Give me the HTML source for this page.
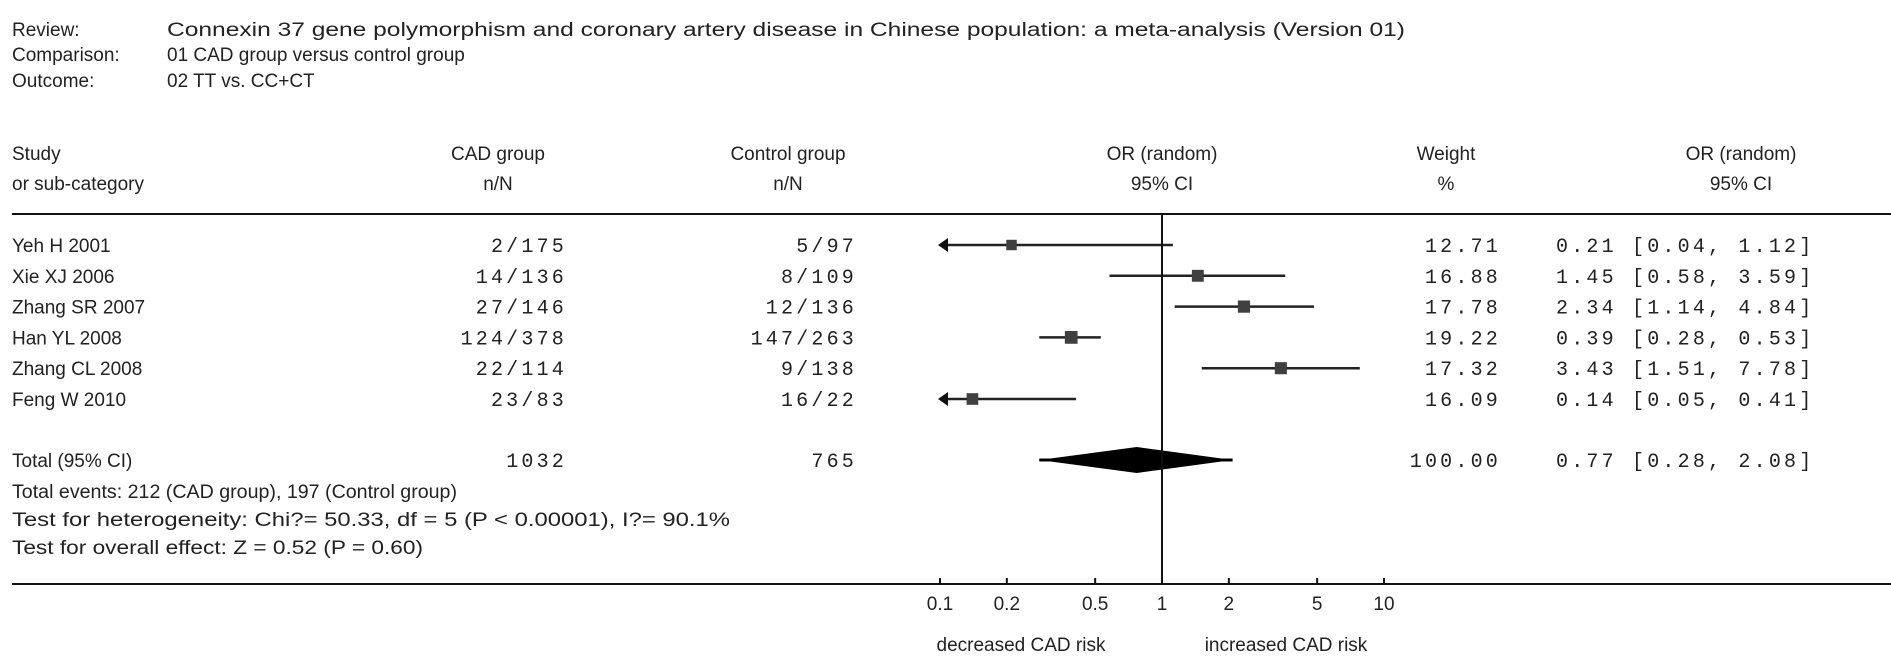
<!DOCTYPE html>
<html><head><meta charset="utf-8"><style>
html,body{margin:0;padding:0;background:#fff;}
svg{display:block;}
.s{font-family:"Liberation Sans",sans-serif;font-size:19px;fill:#222;}
.m{font-family:"Liberation Mono",monospace;font-size:20px;fill:#222;letter-spacing:3.2px;}
</style></head><body>
<svg id="chart" width="1891" height="667" viewBox="0 0 1891 667" xmlns="http://www.w3.org/2000/svg">
<g>
<text class="s" x="12" y="36">Review:</text>
<text class="s" x="167" y="36" textLength="1238" lengthAdjust="spacingAndGlyphs">Connexin 37 gene polymorphism and coronary artery disease in Chinese population: a meta-analysis (Version 01)</text>
<text class="s" x="12" y="61">Comparison:</text>
<text class="s" x="167" y="61">01 CAD group versus control group</text>
<text class="s" x="12" y="87">Outcome:</text>
<text class="s" x="167" y="87">02 TT vs. CC+CT</text>
</g>
<g>
<text class="s" x="12" y="160">Study</text>
<text class="s" x="12" y="190">or sub-category</text>
<text class="s" x="498" y="160" text-anchor="middle">CAD group</text>
<text class="s" x="498" y="190" text-anchor="middle">n/N</text>
<text class="s" x="788" y="160" text-anchor="middle">Control group</text>
<text class="s" x="788" y="190" text-anchor="middle">n/N</text>
<text class="s" x="1162" y="160" text-anchor="middle">OR (random)</text>
<text class="s" x="1162" y="190" text-anchor="middle">95% CI</text>
<text class="s" x="1446" y="160" text-anchor="middle">Weight</text>
<text class="s" x="1446" y="190" text-anchor="middle">%</text>
<text class="s" x="1741" y="160" text-anchor="middle">OR (random)</text>
<text class="s" x="1741" y="190" text-anchor="middle">95% CI</text>
</g>
<line x1="12" y1="214" x2="1891" y2="214" stroke="#111" stroke-width="2"/>
<g id="rows"></g>
<g>
<text class="s" x="12" y="467">Total (95% CI)</text>
<text class="m" x="567" y="467" text-anchor="end">1032</text>
<text class="m" x="857" y="467" text-anchor="end">765</text>
<text class="m" x="1501" y="467" text-anchor="end">100.00</text>
<text class="m" x="1556" y="467">0.77 [0.28, 2.08]</text>
<text class="s" x="12" y="498" textLength="445" lengthAdjust="spacingAndGlyphs">Total events: 212 (CAD group), 197 (Control group)</text>
<text class="s" x="12" y="526" textLength="718" lengthAdjust="spacingAndGlyphs">Test for heterogeneity: Chi?= 50.33, df = 5 (P &lt; 0.00001), I?= 90.1%</text>
<text class="s" x="12" y="554" textLength="411" lengthAdjust="spacingAndGlyphs">Test for overall effect: Z = 0.52 (P = 0.60)</text>
</g>
<g id="axis"></g>
<text class="s" x="1021" y="651" text-anchor="middle">decreased CAD risk</text>
<text class="s" x="1286" y="651" text-anchor="middle">increased CAD risk</text>
</svg>
<script>
const studies = ["Yeh H 2001","Xie XJ 2006","Zhang SR 2007","Han YL 2008","Zhang CL 2008","Feng W 2010"];
const cadNN = ["2/175","14/136","27/146","124/378","22/114","23/83"];
const ctrlNN = ["5/97","8/109","12/136","147/263","9/138","16/22"];
const orVals = [0.21,1.45,2.34,0.39,3.43,0.14];
const ciLow = [0.04,0.58,1.14,0.28,1.51,0.05];
const ciHigh = [1.12,3.59,4.84,0.53,7.78,0.41];
const weights = [12.71,16.88,17.78,19.22,17.32,16.09];
const totalOR = 0.77, totalLow = 0.28, totalHigh = 2.08;
const tickVals = [0.1,0.2,0.5,1,2,5,10];
const tickLabels = ["0.1","0.2","0.5","1","2","5","10"];

const NS="http://www.w3.org/2000/svg";
const xMin=0.1, xMax=10, px0=940, px1=1384;
function xs(v){return px0+(Math.log10(v)-Math.log10(xMin))/(Math.log10(xMax)-Math.log10(xMin))*(px1-px0);}
function ys(i){return 245+i*30.8;}
function mk(tag,attrs,parent,txt){const e=document.createElementNS(NS,tag);for(const k in attrs)e.setAttribute(k,attrs[k]);if(txt!==undefined)e.textContent=txt;parent.appendChild(e);return e;}
const rows=document.getElementById('rows');
const fmt=v=>v.toFixed(2);
studies.forEach((s,i)=>{
  const y=ys(i);
  const g=mk('g',{},rows);
  
  
  let t=mk('text',{class:'s',x:12,y:y+7},g,s);
  
  
  t=mk('text',{class:'m',x:567,y:y+7,'text-anchor':'end'},g,cadNN[i]);
  
  
  t=mk('text',{class:'m',x:857,y:y+7,'text-anchor':'end'},g,ctrlNN[i]);
  
  
  t=mk('text',{class:'m',x:1501,y:y+7,'text-anchor':'end'},g,fmt(weights[i]));
  
  
  t=mk('text',{class:'m',x:1556,y:y+7},g,fmt(orVals[i])+' ['+fmt(ciLow[i])+', '+fmt(ciHigh[i])+']');
  
  
  const lo=Math.max(ciLow[i],xMin), hi=Math.min(ciHigh[i],xMax);
  const ln=mk('line',{x1:xs(lo),x2:xs(hi),y1:y,y2:y,stroke:'#222','stroke-width':2.5},g);
  
  
  if(ciLow[i]<xMin){
    const a=mk('polygon',{points:`${xs(xMin)-2},${y} ${xs(xMin)+8},${y-7} ${xs(xMin)+8},${y+7}`,fill:'#111'},g);
    
    
  }
  const sz=6+weights[i]*0.35;
  const r=mk('rect',{x:xs(orVals[i])-sz/2,y:y-sz/2,width:sz,height:sz,fill:'#404040'},g);
  
  
});
// total diamond (stepped look)
const ty=460;
const xl=xs(totalLow), xh=xs(totalHigh), xc=xs(totalOR);
const d=mk('polygon',{points:`${xl},${ty} ${xc},${ty-13} ${xh},${ty} ${xc},${ty+13}`,fill:'#000'},rows);


const dl=mk('line',{x1:xl,x2:xh,y1:ty,y2:ty,stroke:'#000','stroke-width':3},rows);


// axis
const ax=document.getElementById('axis');
const vl=mk('line',{x1:xs(1),x2:xs(1),y1:214,y2:584,stroke:'#111','stroke-width':2},ax);


const bl=mk('line',{x1:12,x2:1891,y1:584,y2:584,stroke:'#111','stroke-width':2},ax);


tickVals.forEach((v,i)=>{
  const tk=mk('line',{x1:xs(v),x2:xs(v),y1:578,y2:584,stroke:'#111','stroke-width':2},ax);
  
  
  const tl=mk('text',{class:'s',x:xs(v),y:610,'text-anchor':'middle'},ax,tickLabels[i]);
  
  
});
</script>
</body></html>
